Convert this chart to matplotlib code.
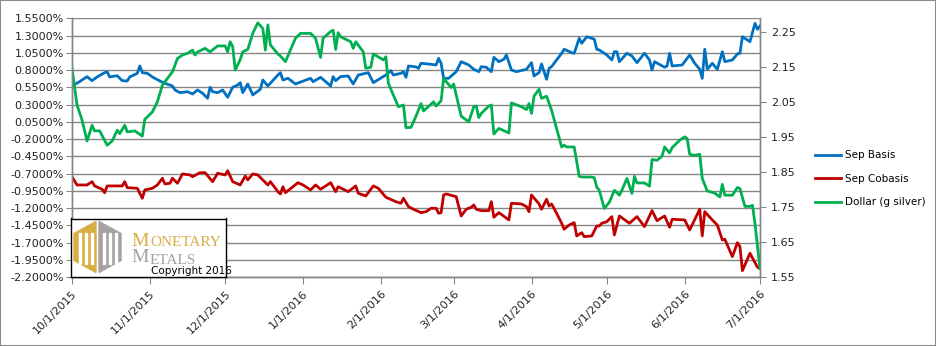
import numpy as np
import pandas as pd
import matplotlib
matplotlib.use('Agg')
import matplotlib.pyplot as plt
from matplotlib.patches import Rectangle, Polygon

# days after 10/1/2015 and the readings for each series
basis_days = [0, 3, 6, 8, 10, 13, 14, 15, 18, 20, 22, 23, 26, 27, 28, 30, 32, 35, 37, 40,
              41, 43, 46, 48, 50, 52, 54, 55, 56, 58, 60, 62, 64, 66, 67, 68, 70, 72, 75, 76,
              78, 82, 83, 84, 86, 89, 95, 96, 99, 103, 104, 105, 107, 110, 112, 114, 117, 118, 120, 125,
              127, 128, 131, 132, 133, 134, 137, 138, 139, 143, 145, 146, 147, 148, 150, 153, 155, 158, 160, 162,
              163, 165, 167, 168, 170, 172, 173, 175, 177, 181, 183, 184, 186, 187, 189, 190, 191, 194, 195, 196,
              199, 200, 202, 203, 205, 207, 208, 209, 210, 213, 215, 216, 217, 218, 221, 223, 225, 228, 230, 231,
              232, 236, 237, 238, 239, 243, 246, 248, 250, 251, 252, 253, 255, 257, 259, 260, 263, 265, 266, 267,
              270, 272, 273, 274]
sep_basis = [0.569, 0.631, 0.704, 0.646, 0.700, 0.762, 0.776, 0.700, 0.718, 0.646, 0.641, 0.700, 0.752, 0.859, 0.762, 0.752, 0.700, 0.641, 0.608, 0.569,
             0.511, 0.472, 0.486, 0.453, 0.511, 0.463, 0.391, 0.550, 0.486, 0.472, 0.511, 0.405, 0.550, 0.583, 0.617, 0.472, 0.598, 0.439, 0.521, 0.656,
             0.569, 0.728, 0.762, 0.656, 0.680, 0.598, 0.680, 0.631, 0.695, 0.569, 0.704, 0.646, 0.704, 0.714, 0.598, 0.728, 0.753, 0.762, 0.617, 0.728,
             0.791, 0.728, 0.753, 0.776, 0.695, 0.859, 0.845, 0.825, 0.898, 0.883, 0.873, 0.970, 0.898, 0.680, 0.680, 0.776, 0.921, 0.873, 0.811, 0.776,
             0.849, 0.840, 0.776, 0.985, 0.921, 0.956, 1.018, 0.801, 0.776, 0.811, 0.907, 0.714, 0.762, 0.888, 0.666, 0.825, 0.849, 0.994, 1.043, 1.101,
             1.052, 1.043, 1.260, 1.188, 1.283, 1.260, 1.246, 1.101, 1.091, 1.018, 0.946, 1.066, 1.066, 0.921, 1.043, 1.004, 0.907, 1.043, 0.946, 0.801,
             0.921, 0.840, 0.859, 1.043, 0.859, 0.873, 1.018, 0.898, 0.811, 0.680, 1.101, 0.811, 0.898, 0.811, 1.066, 0.921, 0.946, 1.033, 1.043, 1.283,
             1.211, 1.478, 1.391, 1.438]

cobasis_days = [0, 2, 6, 8, 9, 12, 13, 14, 20, 21, 22, 26, 28, 29, 32, 34, 36, 37, 39, 40,
                42, 44, 47, 48, 51, 53, 56, 58, 61, 62, 64, 67, 69, 70, 72, 74, 78, 79, 82, 83,
                84, 85, 90, 92, 95, 97, 99, 103, 105, 106, 110, 113, 114, 117, 120, 122, 125, 129, 131, 132,
                134, 136, 139, 141, 143, 145, 146, 147, 148, 149, 153, 155, 157, 159, 160, 161, 163, 166, 167, 168,
                170, 174, 175, 179, 181, 182, 183, 186, 187, 189, 190, 191, 193, 195, 196, 198, 200, 201, 203, 204,
                207, 209, 210, 211, 213, 215, 216, 218, 222, 225, 228, 231, 233, 236, 238, 239, 244, 246, 250, 251,
                252, 255, 257, 259, 260, 263, 265, 266, 267, 270, 273, 274]
sep_cobasis = [-0.746, -0.866, -0.866, -0.818, -0.880, -0.928, -0.978, -0.880, -0.880, -0.818, -0.905, -0.914, -1.059, -0.938, -0.914, -0.866, -0.769, -0.851, -0.841, -0.769,
               -0.841, -0.706, -0.721, -0.746, -0.688, -0.688, -0.818, -0.696, -0.721, -0.659, -0.818, -0.866, -0.736, -0.793, -0.706, -0.721, -0.866, -0.818, -0.963, -0.996,
               -0.891, -0.978, -0.833, -0.866, -0.938, -0.866, -0.928, -0.833, -0.963, -0.891, -0.963, -0.880, -0.986, -1.025, -0.880, -0.914, -1.044, -1.108, -1.131, -1.059,
               -1.180, -1.218, -1.267, -1.253, -1.204, -1.204, -1.276, -1.267, -1.011, -0.996, -1.035, -1.315, -1.218, -1.189, -1.156, -1.218, -1.238, -1.238, -1.108, -1.334,
               -1.267, -1.373, -1.131, -1.141, -1.180, -1.253, -1.011, -1.141, -1.218, -1.073, -1.170, -1.141, -1.276, -1.421, -1.508, -1.446, -1.412, -1.605, -1.557, -1.615,
               -1.605, -1.460, -1.460, -1.421, -1.398, -1.325, -1.590, -1.315, -1.421, -1.325, -1.470, -1.238, -1.383, -1.315, -1.479, -1.363, -1.373, -1.518, -1.218, -1.605,
               -1.253, -1.373, -1.446, -1.663, -1.653, -1.905, -1.702, -1.760, -2.108, -1.856, -2.059, -2.073]

dollar_days = [0, 2, 4, 6, 8, 9, 11, 14, 16, 18, 19, 21, 22, 25, 28, 29, 30, 32, 34, 35,
               36, 40, 42, 44, 46, 48, 49, 50, 53, 55, 58, 61, 62, 63, 64, 65, 67, 68, 70, 72,
               74, 76, 77, 78, 79, 82, 83, 85, 89, 91, 95, 97, 99, 100, 103, 104, 105, 106, 107, 111,
               112, 113, 116, 117, 119, 120, 124, 125, 126, 128, 130, 132, 133, 135, 137, 139, 140, 144, 145, 147,
               148, 151, 152, 155, 158, 160, 161, 162, 163, 166, 167, 168, 170, 174, 175, 179, 181, 182, 183, 184,
               186, 187, 189, 191, 193, 195, 196, 197, 200, 202, 203, 207, 208, 209, 210, 212, 214, 216, 218, 219,
               221, 223, 224, 225, 228, 230, 231, 233, 235, 236, 238, 239, 242, 244, 245, 246, 248, 250, 251, 253,
               256, 258, 259, 260, 263, 265, 266, 268, 270, 271, 272, 274]
dollar_g_silver = [2.147, 2.042, 1.999, 1.939, 1.984, 1.968, 1.968, 1.927, 1.939, 1.970, 1.960, 1.984, 1.965, 1.968, 1.953, 2.001, 2.008, 2.022, 2.051, 2.075,
                   2.099, 2.137, 2.175, 2.185, 2.190, 2.199, 2.185, 2.194, 2.204, 2.194, 2.211, 2.211, 2.194, 2.223, 2.209, 2.142, 2.172, 2.194, 2.201, 2.247,
                   2.277, 2.261, 2.199, 2.271, 2.214, 2.188, 2.182, 2.166, 2.233, 2.247, 2.247, 2.233, 2.178, 2.233, 2.252, 2.256, 2.201, 2.249, 2.237, 2.223,
                   2.204, 2.223, 2.194, 2.147, 2.150, 2.188, 2.171, 2.180, 2.104, 2.070, 2.037, 2.042, 1.977, 1.978, 2.010, 2.046, 2.025, 2.051, 2.039, 2.054,
                   2.118, 2.092, 2.102, 2.010, 1.994, 2.037, 2.039, 2.006, 2.018, 2.039, 2.042, 1.959, 1.975, 1.962, 2.048, 2.037, 2.029, 2.046, 2.018, 2.067,
                   2.087, 2.061, 2.067, 2.027, 1.975, 1.922, 1.927, 1.922, 1.922, 1.838, 1.836, 1.836, 1.834, 1.807, 1.798, 1.746, 1.764, 1.798, 1.784, 1.798,
                   1.832, 1.789, 1.838, 1.819, 1.819, 1.810, 1.886, 1.884, 1.896, 1.922, 1.905, 1.920, 1.941, 1.951, 1.946, 1.901, 1.898, 1.901, 1.832, 1.796,
                   1.790, 1.779, 1.815, 1.784, 1.784, 1.806, 1.803, 1.752, 1.752, 1.755, 1.703, 1.574]

month_ticks = ['2015-10-01', '2015-11-01', '2015-12-01', '2016-01-01', '2016-02-01',
               '2016-03-01', '2016-04-01', '2016-05-01', '2016-06-01', '2016-07-01']
month_labels = ['10/1/2015', '11/1/2015', '12/1/2015', '1/1/2016', '2/1/2016',
                '3/1/2016', '4/1/2016', '5/1/2016', '6/1/2016', '7/1/2016']

start = pd.Timestamp('2015-10-01')
def to_dates(days):
    return start + pd.to_timedelta(days, unit='D')

blue = '#0070C0'
red = '#C00000'
green = '#00B050'
grey = '#868686'

plt.rcParams['font.family'] = ['DejaVu Sans']
fig = plt.figure(figsize=(9.36, 3.46), dpi=100)
fig.patches.append(Rectangle((0, 0), 1, 1, transform=fig.transFigure, fill=False,
                             edgecolor='#8c8c8c', linewidth=1.5))

ax = fig.add_axes([72 / 936, 1 - 277 / 346, (760 - 72) / 936, (277 - 18.3) / 346])
ax2 = ax.twinx()

l1, = ax.plot(to_dates(basis_days), sep_basis, color=blue, lw=2.0, label='Sep Basis')
l2, = ax.plot(to_dates(cobasis_days), sep_cobasis, color=red, lw=2.0, label='Sep Cobasis')
l3, = ax2.plot(to_dates(dollar_days), dollar_g_silver, color=green, lw=2.0, label='Dollar (g silver)')

ax.set_xlim(pd.Timestamp('2015-10-01'), pd.Timestamp('2016-07-01'))
ax.set_ylim(-2.2, 1.55)
ax2.set_ylim(1.55, 2.29)

left_ticks = np.arange(-2.2, 1.56, 0.25)
ax.set_yticks(left_ticks)
ax.set_yticklabels([f'{t:.4f}%' for t in left_ticks])
right_ticks = np.arange(1.55, 2.26, 0.1)
ax2.set_yticks(right_ticks)
ax2.set_yticklabels([f'{t:.2f}' for t in right_ticks])

ax.set_xticks(pd.to_datetime(month_ticks))
ax.set_xticklabels(month_labels, rotation=45, ha='right', rotation_mode='anchor')

ax.grid(axis='y', color=grey, lw=1.0)
ax.set_axisbelow(True)
for a in (ax, ax2):
    a.spines['top'].set_visible(False)
    for s in ('left', 'right', 'bottom'):
        a.spines[s].set_color(grey)
        a.spines[s].set_linewidth(1.0)
ax.tick_params(axis='y', length=4, color=grey, labelsize=8, pad=2, labelcolor='#222222')
ax.tick_params(axis='x', length=5, color=grey, labelsize=8, pad=3, labelcolor='#222222')
ax2.tick_params(axis='y', length=4, color=grey, labelsize=8, pad=4, labelcolor='#222222')

fig.legend(handles=[l1, l2, l3], loc='upper left', bbox_to_anchor=(806 / 936, 1 - 141 / 346),
           frameon=False, fontsize=7.5, handlelength=2.5, handletextpad=0.35, labelspacing=1.3)

# logo box
box = fig.add_axes([71 / 936, 1 - 277 / 346, (226 - 71) / 936, (277 - 218.5) / 346])
box.set_xlim(0, 155)
box.set_ylim(58.5, 0)
box.set_xticks([])
box.set_yticks([])
for s in box.spines.values():
    s.set_color('black')
    s.set_linewidth(1.0)
gold = '#D8AE45'
silver = '#A3A3A3'
box.add_patch(Polygon([(25, 3), (3, 15), (3, 42), (25, 54)], closed=True, color=gold))
box.add_patch(Polygon([(28, 3), (50, 15), (50, 42), (28, 54)], closed=True, color=silver))
for xs in (8, 14, 20):
    box.add_patch(Rectangle((xs, 15), 2.2, 30, color='white'))
for xs in (32, 38, 44):
    box.add_patch(Rectangle((xs, 15), 2.2, 30, color='white'))
t1 = box.text(60, 27, 'M', color=gold, fontsize=14, family='Liberation Serif', va='baseline')
box.annotate('ONETARY', xy=(1, 0), xycoords=t1, xytext=(1, 0), textcoords='offset points',
             color=gold, fontsize=11, family='Liberation Serif', va='bottom')
t2 = box.text(60, 44, 'M', color=silver, fontsize=14, family='Liberation Serif', va='baseline')
box.annotate('ETALS', xy=(1, 0), xycoords=t2, xytext=(1, 0), textcoords='offset points',
             color=silver, fontsize=11, family='Liberation Serif', va='bottom')
box.text(80, 55, 'Copyright 2016', color='black', fontsize=7.5, va='baseline')

plt.savefig('out.png', dpi=100)
